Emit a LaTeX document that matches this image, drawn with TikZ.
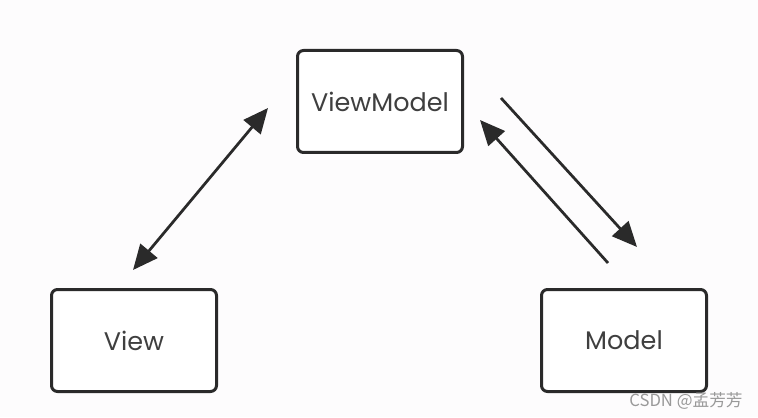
\documentclass[tikz,border=0pt]{standalone}
\usepackage{fontspec}
\setmainfont{Poppins}
\newfontfamily\cjkfont{Noto Sans CJK SC}
\usetikzlibrary{arrows.meta,positioning}
\definecolor{traco}{HTML}{2A2A2A}
\definecolor{fundo}{HTML}{FDFCFD}

\begin{document}
\begin{tikzpicture}[
    caixa/.style={
        rectangle, rounded corners=0.12cm, draw=traco, line width=0.06cm,
        fill=white, minimum width=3.3cm, minimum height=2.04cm,
        inner sep=0pt, font=\fontsize{14.5}{17}\selectfont, text=traco!90
    },
    seta/.style={-{Triangle[length=0.5cm,width=0.44cm]}, line width=0.055cm, draw=traco},
    setadupla/.style={{Triangle[length=0.5cm,width=0.44cm]}-{Triangle[length=0.5cm,width=0.44cm]}, line width=0.055cm, draw=traco}
]
\fill[fundo] (0,0) rectangle (15.16,8.34);
\useasboundingbox (0,0) rectangle (15.16,8.34);

% Caixas
\node[caixa] (vm) at (7.6,6.31) {ViewModel};
\node[caixa, below left=2.68cm and 1.56cm of vm] (view) {View};
\node[caixa, below right=2.68cm and 1.52cm of vm] (model) {Model};

% Pontas das setas
\coordinate (viewtop) at ([shift={(-0.02,0.36)}]view.north);
\coordinate (vmleft) at ([shift={(-0.56,-0.13)}]vm.west);
\coordinate (vmright1) at ([shift={(0.74,0.07)}]vm.east);
\coordinate (modeltop1) at ([shift={(0.26,0.82)}]model.north);
\coordinate (modeltop2) at ([shift={(-0.32,0.5)}]model.north);
\coordinate (vmright2) at ([shift={(0.32,-0.37)}]vm.east);

% Setas
\draw[setadupla] (viewtop) -- (vmleft);
\draw[seta] (vmright1) -- (modeltop1);
\draw[seta] (modeltop2) -- (vmright2);

\node[font=\cjkfont\fontsize{9.5}{10}\selectfont, text=gray!80, anchor=east, inner sep=0pt] (marca) at (14.86,0.32) {CSDN @孟芳芳};
\end{tikzpicture}
\end{document}
